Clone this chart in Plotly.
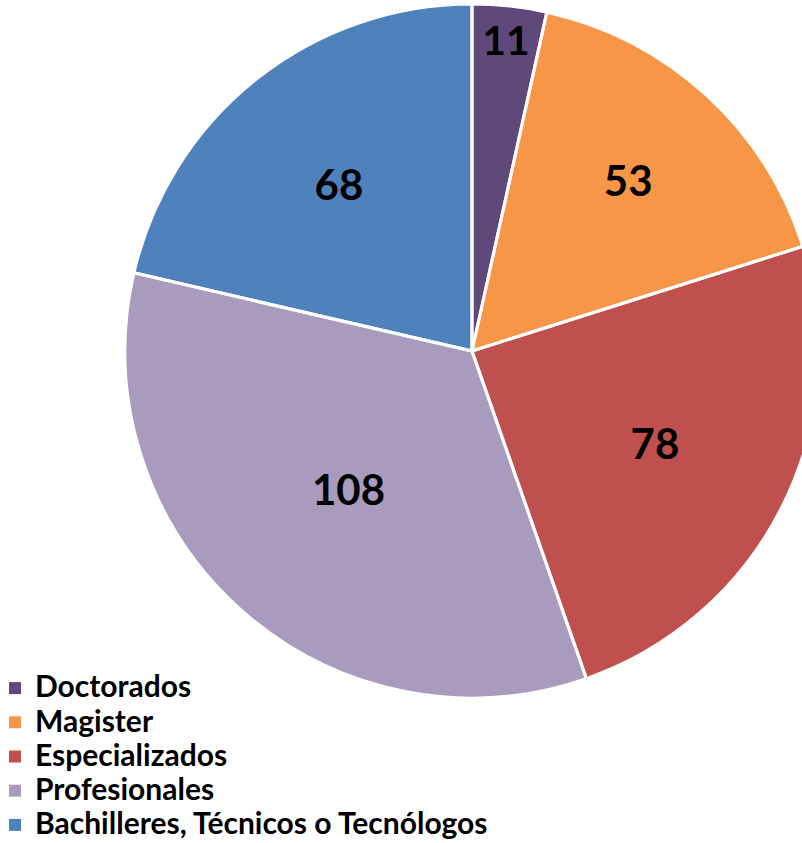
import plotly.graph_objects as go

categories = ["Doctorados", "Magister", "Especializados", "Profesionales",
              "Bachilleres, Técnicos o Tecnólogos"]
values = [11, 53, 78, 108, 68]
colors = ["#5F497A", "#F79646", "#C0504D", "#A99BBD", "#4F81BD"]

W, H = 944, 843
dom = dict(x=[0, 1], y=[(H - 698) / H, (H - 4) / H])

# legend text rendered larger than the legend line pitch
legend_labels = [f"<span style='font-size:30px'>{c}</span>" for c in categories]

fig = go.Figure()
fig.add_trace(go.Pie(
    labels=legend_labels,
    values=values,
    sort=False,
    direction="clockwise",
    rotation=0,
    marker=dict(colors=colors, line=dict(width=0)),
    textinfo="value",
    textposition="inside",
    insidetextorientation="horizontal",
    textfont=dict(family="Lato", size=42, color="black", weight="bold"),
    domain=dom,
    hovertext=categories,
    hoverinfo="text+value+percent",
))
# white slice separators drawn as an overlay so legend swatches stay full size
fig.add_trace(go.Pie(
    labels=categories,
    values=values,
    sort=False,
    direction="clockwise",
    rotation=0,
    marker=dict(colors=["rgba(0,0,0,0)"] * len(values),
                line=dict(color="white", width=3)),
    textinfo="none",
    hoverinfo="skip",
    showlegend=False,
    domain=dom,
))

fig.update_layout(
    width=W, height=H,
    margin=dict(l=0, r=0, t=0, b=0, autoexpand=False),
    paper_bgcolor="white",
    showlegend=True,
    legend=dict(
        x=-5 / W, xanchor="left",
        y=-4 / H, yanchor="bottom",
        font=dict(family="Lato", size=24, color="black", weight="bold"),
        tracegroupgap=0,
        bgcolor="rgba(0,0,0,0)",
    ),
)

post = ("document.body.style.margin='0';"
        "document.body.style.overflow='hidden';"
        "document.documentElement.style.overflow='hidden';")
fig.write_html("out.html", post_script=post)
